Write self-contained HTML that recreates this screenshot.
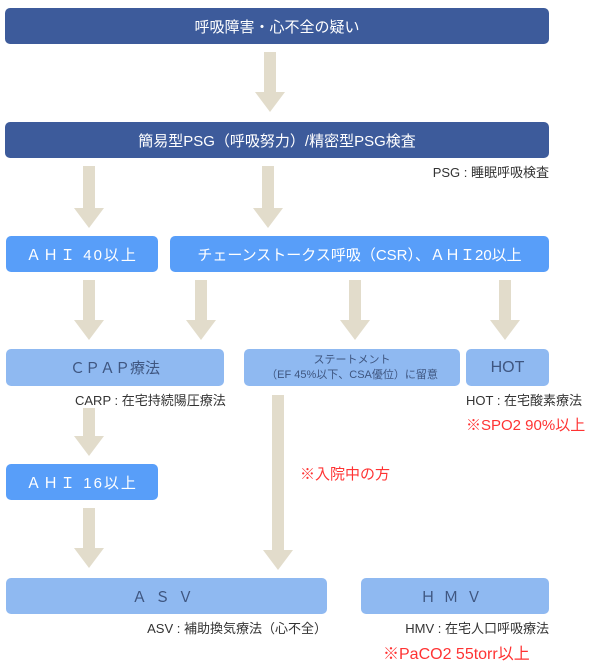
<!DOCTYPE html>
<html><head><meta charset="utf-8"><style>
body{margin:0;width:600px;height:663px;background:#fff;position:relative;overflow:hidden;font-family:"Liberation Sans","Noto Sans CJK JP",sans-serif}
.b{position:absolute;border-radius:5px;display:flex;align-items:center;justify-content:center;text-align:center}
.d{background:#3d5b9b;color:#fff;font-size:15px}
.m{background:#589ef9;color:#fff;font-size:15px}
.l{background:#8fb9f1;color:#3f5680;font-size:15px}
.t{position:absolute;font-size:13px;color:#333;white-space:nowrap}
.r{position:absolute;font-size:15px;color:#f33;white-space:nowrap}
svg{position:absolute;left:0;top:0}
</style></head><body>
<svg width="600" height="663"><g fill="#e2dccb">
<path d="M264,52h12v40h9l-15,20l-15,-20h9z"/>
<path d="M83,166h12v42h9l-15,20l-15,-20h9z"/>
<path d="M262,166h12v42h9l-15,20l-15,-20h9z"/>
<path d="M83,280h12v40h9l-15,20l-15,-20h9z"/>
<path d="M195,280h12v40h9l-15,20l-15,-20h9z"/>
<path d="M349,280h12v40h9l-15,20l-15,-20h9z"/>
<path d="M499,280h12v40h9l-15,20l-15,-20h9z"/>
<path d="M83,408h12v28h9l-15,20l-15,-20h9z"/>
<path d="M83,508h12v40h9l-15,20l-15,-20h9z"/>
<path d="M272,395h12v155h9l-15,20l-15,-20h9z"/>
</g></svg>
<div class="b d" style="left:5px;top:8px;width:544px;height:36px">呼吸障害・心不全の疑い</div>
<div class="b d" style="left:5px;top:122px;width:544px;height:36px">簡易型PSG（呼吸努力）/精密型PSG検査</div>
<div class="t" style="right:51px;top:162px">PSG : 睡眠呼吸検査</div>
<div class="b m" style="left:6px;top:236px;width:152px;height:36px;letter-spacing:2px">ＡＨＩ 40以上</div>
<div class="b m" style="left:170px;top:236px;width:379px;height:36px">チェーンストークス呼吸（CSR）、ＡＨＩ20以上</div>
<div class="b l" style="left:6px;top:349px;width:218px;height:37px">ＣＰＡＰ療法</div>
<div class="b l" style="left:244px;top:349px;width:216px;height:37px;font-size:11px;line-height:15px">ステートメント<br>（EF 45%以下、CSA優位）に留意</div>
<div class="b l" style="left:466px;top:349px;width:83px;height:37px;font-size:16px">HOT</div>
<div class="t" style="left:75px;top:390px">CARP : 在宅持続陽圧療法</div>
<div class="t" style="left:466px;top:390px">HOT : 在宅酸素療法</div>
<div class="r" style="left:466px;top:414px">※SPO2 90%以上</div>
<div class="b m" style="left:6px;top:464px;width:152px;height:36px;letter-spacing:2px">ＡＨＩ 16以上</div>
<div class="r" style="left:300px;top:463px">※入院中の方</div>
<div class="b l" style="left:6px;top:578px;width:321px;height:36px;letter-spacing:8px">ＡＳＶ</div>
<div class="b l" style="left:361px;top:578px;width:188px;height:36px;letter-spacing:8px">ＨＭＶ</div>
<div class="t" style="right:273px;top:618px">ASV : 補助換気療法（心不全）</div>
<div class="t" style="right:51px;top:618px">HMV : 在宅人口呼吸療法</div>
<div class="r" style="left:383px;top:640px;font-size:16px">※PaCO2 55torr以上</div>
</body></html>
